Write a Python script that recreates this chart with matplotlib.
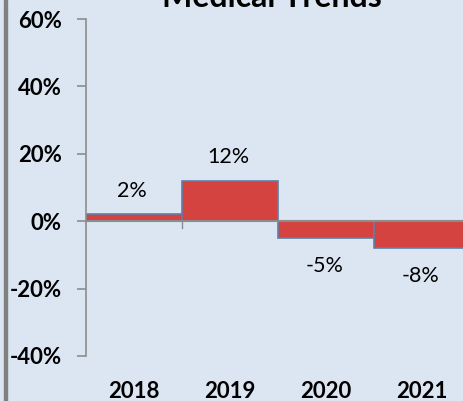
import matplotlib
matplotlib.use("Agg")
import matplotlib.pyplot as plt
from matplotlib.patches import Rectangle

# chart data
years = ["2018", "2019", "2020", "2021"]
changes = [0.02, 0.12, -0.05, -0.08]
labels = ["2%", "12%", "-5%", "-8%"]
y_ticks = [0.6, 0.4, 0.2, 0.0, -0.2, -0.4]
y_tick_labels = ["60%", "40%", "20%", "0%", "-20%", "-40%"]

bg = "#dce6f2"
axis_grey = "#8c8c8c"

plt.rcParams["font.family"] = ["Lato", "DejaVu Sans"]

fig = plt.figure(figsize=(4.64, 4.01), dpi=100, facecolor=bg)
ax = fig.add_axes([86 / 464, 1 - 356 / 401, 384 / 464, 337 / 401])
ax.set_facecolor(bg)

x = list(range(len(years)))
bars = ax.bar(x, changes, width=1.0, color="#d54341", edgecolor="#5d7fa8",
              linewidth=1.2, zorder=2)

# label each bar, above if positive, below if negative
for xi, v, lab in zip(x, changes, labels):
    if v >= 0:
        ax.text(xi - 0.02, v + 0.071, lab, ha="center", va="center", fontsize=15.5)
    else:
        ax.text(xi - 0.02, v - 0.083, lab, ha="center", va="center", fontsize=15.5)

ax.set_xlim(-0.5, len(years) - 0.5)
ax.set_ylim(-0.4, 0.6)
ax.set_yticks(y_ticks)
ax.set_yticklabels(y_tick_labels, fontsize=16, fontweight="bold")
ax.set_xticks(x)
ax.set_xticklabels(years, fontsize=16, fontweight="bold")
ax.tick_params(axis="x", length=0, pad=18)
ax.tick_params(axis="y", length=6.5, width=1.2, color=axis_grey, pad=11)

for side in ["top", "right", "bottom"]:
    ax.spines[side].set_visible(False)
ax.spines["left"].set_color(axis_grey)
ax.spines["left"].set_linewidth(1.2)
ax.axhline(0, color=axis_grey, linewidth=1.5, zorder=3)
# small category boundary tick below the zero line
ax.plot([0.5, 0.5], [0, -0.02], color=axis_grey, linewidth=1.0, zorder=3)

fig.text(272 / 464, 1 - 7 / 401, "Medical Trends", ha="center", va="baseline",
         fontsize=23, fontweight="bold")

# left border of the chart area
fig.add_artist(Rectangle((4 / 464, 0), 3 / 464, 1, transform=fig.transFigure,
                         color="#808080", zorder=5))

fig.savefig("out.png", dpi=100, facecolor=bg)
